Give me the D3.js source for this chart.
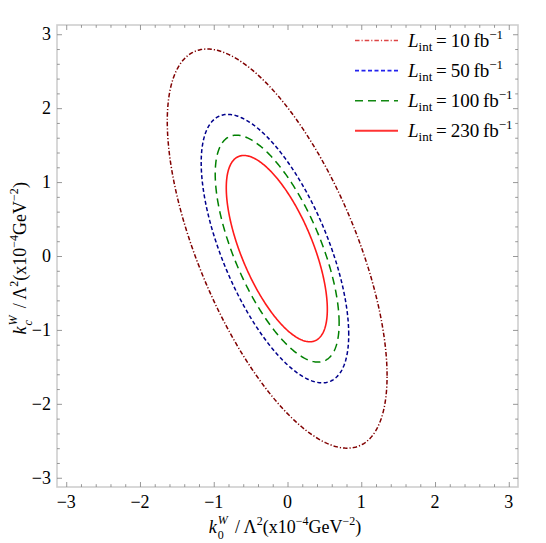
<!DOCTYPE html>
<html><head><meta charset="utf-8">
<script src="https://cdn.jsdelivr.net/npm/d3@7"></script>
<style>
html,body{margin:0;padding:0;background:#fff;}
svg{display:block;}
</style></head>
<body>
<svg id="chart" width="546" height="543" font-family="'Liberation Serif', Tinos, 'Times New Roman', Times, 'DejaVu Serif', serif"></svg>
<script>
// ---- data ----
const luminosities = ["10", "50", "100", "230"];          // fb^-1
const centerX   = [-0.14, -0.17, -0.14, -0.145];          // ellipse centre, k0^W axis
const centerY   = [0.10, 0.10, 0.10, 0.10];               // ellipse centre, kc^W axis
const halfWidth = [1.49, 1.00, 0.84, 0.685];              // half extent along k0^W
const halfHeight= [2.70, 1.816, 1.535, 1.26];             // half extent along kc^W
const topShiftX = [-0.95, -0.64, -0.553, -0.447];         // k0^W offset of the topmost point
const xTicks = [-3, -2, -1, 0, 1, 2, 3];
const yTicks = [-3, -2, -1, 0, 1, 2, 3];

// ---- styles ----
const curveColors  = ["#800000", "#00008c", "#008000", "#ff1a1a"];
const legendColors = ["#dd4444", "#2222ee", "#118811", "#ff3333"];
const dashes = ["4.5,2,1.2,2", "4,2.5", "8,5", null];
const FONT = "'Liberation Serif', Tinos, 'Times New Roman', Times, 'DejaVu Serif', serif";

const svg = d3.select("#chart");
const x = d3.scaleLinear().domain([-3.125, 3.125]).range([57, 518]);
const y = d3.scaleLinear().domain([-3.125, 3.125]).range([487, 25]);

// frame
svg.append("rect").attr("x", 57).attr("y", 25).attr("width", 461).attr("height", 462)
  .attr("fill", "none").attr("stroke", "#cfcfcf").attr("stroke-width", 1.6);

// ticks with d3 axes (inward), all four sides
const minor = d3.range(-3, 3.01, 0.2).map(v => Math.round(v * 10) / 10).filter(v => !xTicks.includes(v));
function tickAxis(axisFn, scale, vals, len, transform) {
  const g = svg.append("g").attr("transform", transform)
    .call(axisFn(scale).tickValues(vals).tickSize(len).tickFormat(""));
  g.select(".domain").remove();
  g.selectAll("text").remove();
  g.selectAll("line").attr("stroke", "#8c8c8c").attr("stroke-width", 0.9);
  g.attr("font-family", null);
  return g;
}
tickAxis(d3.axisTop, x, xTicks, 5, "translate(0,487)");
tickAxis(d3.axisTop, x, minor, 2.8, "translate(0,487)");
tickAxis(d3.axisBottom, x, xTicks, 5, "translate(0,25)");
tickAxis(d3.axisBottom, x, minor, 2.8, "translate(0,25)");
tickAxis(d3.axisRight, y, yTicks, 5, "translate(57,0)");
tickAxis(d3.axisRight, y, minor, 2.8, "translate(57,0)");
tickAxis(d3.axisLeft, y, yTicks, 5, "translate(518,0)");
tickAxis(d3.axisLeft, y, minor, 2.8, "translate(518,0)");

const fmt = v => (v < 0 ? "\u2212" + Math.abs(v) : String(v));
svg.append("g").selectAll("text").data(xTicks).join("text")
  .attr("font-family", FONT)
  .attr("x", d => x(d)).attr("y", 508).attr("text-anchor", "middle")
  .attr("font-size", 18).text(fmt);
svg.append("g").selectAll("text").data(yTicks).join("text")
  .attr("font-family", FONT)
  .attr("x", 51).attr("y", d => y(d) + 6).attr("text-anchor", "end")
  .attr("font-size", 18).text(fmt);

// ellipses
const t = d3.range(0, 361, 1).map(a => a * Math.PI / 180);
const line = d3.line().x(d => x(d[0])).y(d => y(d[1])).curve(d3.curveLinearClosed);
luminosities.forEach((L, i) => {
  const l11 = halfWidth[i];
  const sxy = topShiftX[i] * halfHeight[i];
  const l21 = sxy / l11;
  const l22 = Math.sqrt(halfHeight[i] * halfHeight[i] - l21 * l21);
  const pts = t.map(a => [centerX[i] + l11 * Math.cos(a), centerY[i] + l21 * Math.cos(a) + l22 * Math.sin(a)]);
  svg.append("path").attr("d", line(pts)).attr("fill", "none")
    .attr("stroke", curveColors[i]).attr("stroke-width", i === 3 ? 1.6 : 1.5)
    .attr("stroke-dasharray", dashes[i]);
});

// measure helper
function measure(str, size, italic) {
  const tmp = svg.append("text").attr("font-family", FONT).attr("font-size", size)
    .attr("font-style", italic ? "italic" : null).text(str);
  const w = tmp.node().getComputedTextLength();
  tmp.remove();
  return w;
}
// single text element with tspans; "off" = baseline offset, "stack" = placed under previous part
function rich(g, parts) {
  const tx = g.append("text").attr("font-family", FONT);
  let cur = 0, pos = 0, lastStart = 0, lastW = 0, pending = 0;
  parts.forEach(p => {
    const off = p.off || 0;
    const w = measure(p.t, p.size, p.italic);
    const ts = tx.append("tspan").attr("font-size", p.size)
      .attr("font-style", p.italic ? "italic" : null)
      .attr("dy", off - cur).text(p.t);
    cur = off;
    if (p.stack) {
      ts.attr("dx", -lastW);
      pending = Math.max(0, lastW - w);
      pos = lastStart + Math.max(lastW, w);
    } else {
      const dx = (p.dx || 0) + pending;
      if (dx) ts.attr("dx", dx);
      pending = 0;
      lastStart = pos + dx; lastW = w;
      pos = lastStart + w;
    }
  });
  return pos;
}

// axis label parts
const labelParts = sub => [
  {t: "k", size: 18, italic: true},
  {t: "W", size: 12, italic: true, off: -9, dx: 1},
  {t: sub, size: 12, italic: sub === "c", off: 6, stack: true},
  {t: "\u2009\u2009/\u2009\u039B", size: 18},
  {t: "2", size: 12, off: -8},
  {t: "(x10", size: 18},
  {t: "\u22124", size: 12, off: -8},
  {t: "GeV", size: 18},
  {t: "\u22122", size: 12, off: -8},
  {t: ")", size: 18}
];
const xl = svg.append("g");
const xw = rich(xl, labelParts("0"));
xl.attr("transform", `translate(${287 - xw / 2},533)`);

const yl = svg.append("g");
const yw = rich(yl, labelParts("c"));
yl.attr("transform", `translate(26,${256 + yw / 2}) rotate(-90)`);

// legend
luminosities.forEach((L, i) => {
  const ly = 40.5 + i * 30.1;
  svg.append("line").attr("x1", 355).attr("x2", 398).attr("y1", ly).attr("y2", ly)
    .attr("stroke", legendColors[i]).attr("stroke-width", i === 3 ? 2 : 1.6)
    .attr("stroke-dasharray", dashes[i]);
  const g = svg.append("g").attr("transform", `translate(408,${ly + 6})`);
  rich(g, [
    {t: "L", size: 19, italic: true},
    {t: "int", size: 13, off: 4},
    {t: "\u2009=\u2009" + L + "\u2009fb", size: 19},
    {t: "\u22121", size: 13, off: -8}
  ]);
});
</script>
</body></html>
